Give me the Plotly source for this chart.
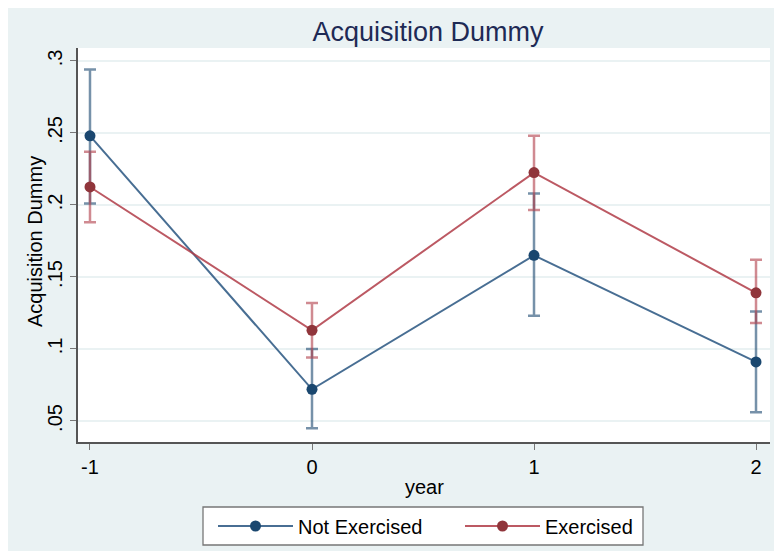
import plotly.graph_objects as go

years = [-1, 0, 1, 2]
not_ex_mean = [0.248, 0.072, 0.165, 0.091]
not_ex_upper = [0.294, 0.100, 0.208, 0.126]
not_ex_lower = [0.201, 0.045, 0.123, 0.056]
ex_mean = [0.2125, 0.113, 0.2225, 0.139]
ex_upper = [0.237, 0.132, 0.248, 0.162]
ex_lower = [0.188, 0.094, 0.1965, 0.118]

y_tickvals = [0.05, 0.1, 0.15, 0.2, 0.25, 0.3]
y_ticktext = [".05", ".1", ".15", ".2", ".25", ".3"]
x_tickvals = [-1, 0, 1, 2]
x_ticktext = ["-1", "0", "1", "2"]

NAVY = "#1A476F"
MAROON = "#90353B"

# page has an 8px body margin; figure coords = page coords - 8
FW, FH = 774, 543
L, R, T, B = 70, 762, 40, 434
W, H = R - L, B - T


def px_x(px):
    return (px - L) / W


def px_y(py):
    return (B - py) / H


def trace(name, mean, upper, lower, color, line_rgba, err_rgba, legend):
    return go.Scatter(
        x=years, y=mean, name=name, mode="lines+markers", legend=legend,
        line=dict(color=line_rgba, width=2),
        marker=dict(color=color, size=11),
        error_y=dict(type="data", symmetric=False,
                     array=[u - m for u, m in zip(upper, mean)],
                     arrayminus=[m - l for m, l in zip(mean, lower)],
                     color=err_rgba, thickness=2.5, width=6),
    )


fig = go.Figure()
fig.add_trace(trace("Not Exercised", not_ex_mean, not_ex_upper, not_ex_lower,
                    NAVY, "rgba(40,85,128,0.85)", "rgba(26,71,111,0.6)", "legend"))
fig.add_trace(trace("Exercised", ex_mean, ex_upper, ex_lower,
                    MAROON, "rgba(176,60,72,0.85)", "rgba(176,60,72,0.6)", "legend2"))

font = "Liberation Sans, Arial, sans-serif"
leg_common = dict(orientation="h", yanchor="middle", xanchor="left",
                  bgcolor="rgba(0,0,0,0)", borderwidth=0,
                  font=dict(size=20, color="black"), itemwidth=75)
fig.update_layout(
    width=FW, height=FH,
    margin=dict(l=L, r=FW - R, t=T, b=FH - B, autoexpand=False),
    paper_bgcolor="#EAF2F3",
    plot_bgcolor="white",
    font=dict(family=font, size=20, color="black"),
    title=dict(text="Acquisition Dummy", x=420 / FW, xanchor="center",
               y=1 - 24 / FH, yanchor="middle",
               font=dict(size=27, color="#1E2A55", family=font)),
    showlegend=True,
    legend=dict(x=px_x(205), y=px_y(518), **leg_common),
    legend2=dict(x=px_x(452), y=px_y(518), **leg_common),
    xaxis=dict(range=[-1.054, 2.063], tickvals=x_tickvals, ticktext=x_ticktext,
               showgrid=False, zeroline=False, showline=True, linecolor="#555555",
               linewidth=1.5, ticks="outside", ticklen=6, tickcolor="#777777",
               tickfont=dict(size=20), automargin=False),
    yaxis=dict(range=[0.0354, 0.309], tickvals=y_tickvals, ticktext=y_ticktext,
               showgrid=True, gridcolor="#EAF2F3", gridwidth=1.5, zeroline=False,
               showline=True, linecolor="#555555", linewidth=1.5,
               ticks="outside", ticklen=6, tickcolor="#777777", tickangle=-90,
               tickfont=dict(size=20), automargin=False),
)

# legend frame
fig.add_shape(type="rect", xref="paper", yref="paper",
              x0=px_x(195), x1=px_x(635), y0=px_y(537), y1=px_y(499),
              fillcolor="white", line=dict(color="#777777", width=1.3), layer="above")

fig.add_annotation(text="year", xref="paper", yref="paper", x=px_x(416), y=px_y(479),
                   xanchor="center", yanchor="middle", showarrow=False,
                   font=dict(size=20, color="black"))
fig.add_annotation(text="Acquisition Dummy", xref="paper", yref="paper",
                   x=px_x(27), y=px_y(234), textangle=-90,
                   xanchor="center", yanchor="middle", showarrow=False,
                   font=dict(size=20, color="black"))

fig.write_html("out.html")
